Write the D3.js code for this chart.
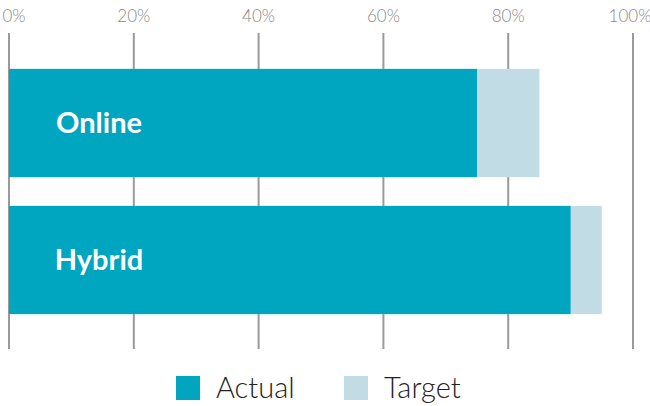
<!DOCTYPE html>
<html>
<head>
<meta charset="utf-8">
<script src="https://cdn.jsdelivr.net/npm/d3@7"></script>
<style>
  body { margin: 0; background: #fff; }
  svg { display: block; font-family: Lato, "Open Sans", sans-serif; }
</style>
</head>
<body>
<div class="canvas"></div>
<script>
const categories = ["Online", "Hybrid"];
const actual = [75, 90];
const target = [85, 95];
const ticks = [0, 20, 40, 60, 80, 100];
const seriesNames = ["Actual", "Target"];

const w = 650;
const h = 406;
const colors = { Actual: "#00a5bf", Target: "#c2dce6" };

const svg = d3.select(".canvas")
  .append("svg")
  .attr("width", w)
  .attr("height", h);

// x scale in percent
const x = d3.scaleLinear().domain([0, 100]).range([9, 633]);

// y band for the two bars
const y = d3.scaleBand()
  .domain(categories)
  .range([54.5, 328.5])
  .paddingInner(0.21)
  .paddingOuter(0.105);

// gridlines
svg.append("g")
  .selectAll("line")
  .data(ticks)
  .enter()
  .append("line")
  .attr("x1", d => x(d))
  .attr("x2", d => x(d))
  .attr("y1", 33)
  .attr("y2", 349)
  .attr("stroke", "#9a9a9a")
  .attr("stroke-width", 2);

// tick labels on top
svg.append("g")
  .selectAll("text")
  .data(ticks)
  .enter()
  .append("text")
  .attr("x", d => Math.min(Math.max(x(d), 14), 630))
  .attr("y", 22)
  .attr("text-anchor", "middle")
  .attr("font-size", 17)
  .attr("font-weight", 300)
  .attr("fill", "#8a8a8a")
  .text(d => d + "%");

const rows = categories.map((c, i) => ({ name: c, actual: actual[i], target: target[i] }));

// target bars behind actual
svg.append("g")
  .selectAll("rect")
  .data(rows)
  .enter()
  .append("rect")
  .attr("x", x(0))
  .attr("y", d => y(d.name))
  .attr("width", d => x(d.target) - x(0))
  .attr("height", y.bandwidth())
  .attr("fill", colors.Target);

svg.append("g")
  .selectAll("rect")
  .data(rows)
  .enter()
  .append("rect")
  .attr("x", x(0))
  .attr("y", d => y(d.name))
  .attr("width", d => x(d.actual) - x(0))
  .attr("height", y.bandwidth())
  .attr("fill", colors.Actual);

// category labels inside bars
svg.append("g")
  .selectAll("text")
  .data(rows)
  .enter()
  .append("text")
  .attr("x", 99)
  .attr("y", d => y(d.name) + y.bandwidth() / 2)
  .attr("dy", "0.35em")
  .attr("text-anchor", "middle")
  .attr("font-size", 29)
  .attr("font-weight", 700)
  .attr("fill", "#fff")
  .text(d => d.name);

// legend
const legendX = [176, 344];
const legend = svg.append("g")
  .selectAll("g")
  .data(seriesNames)
  .enter()
  .append("g")
  .attr("transform", (d, i) => `translate(${legendX[i]}, 376)`);

legend.append("rect")
  .attr("width", 24)
  .attr("height", 24)
  .attr("fill", d => colors[d]);

legend.append("text")
  .attr("x", 40)
  .attr("y", 12)
  .attr("dy", "0.36em")
  .attr("font-size", 29)
  .attr("font-weight", 300)
  .attr("fill", "#222")
  .text(d => d);
</script>
</body>
</html>
